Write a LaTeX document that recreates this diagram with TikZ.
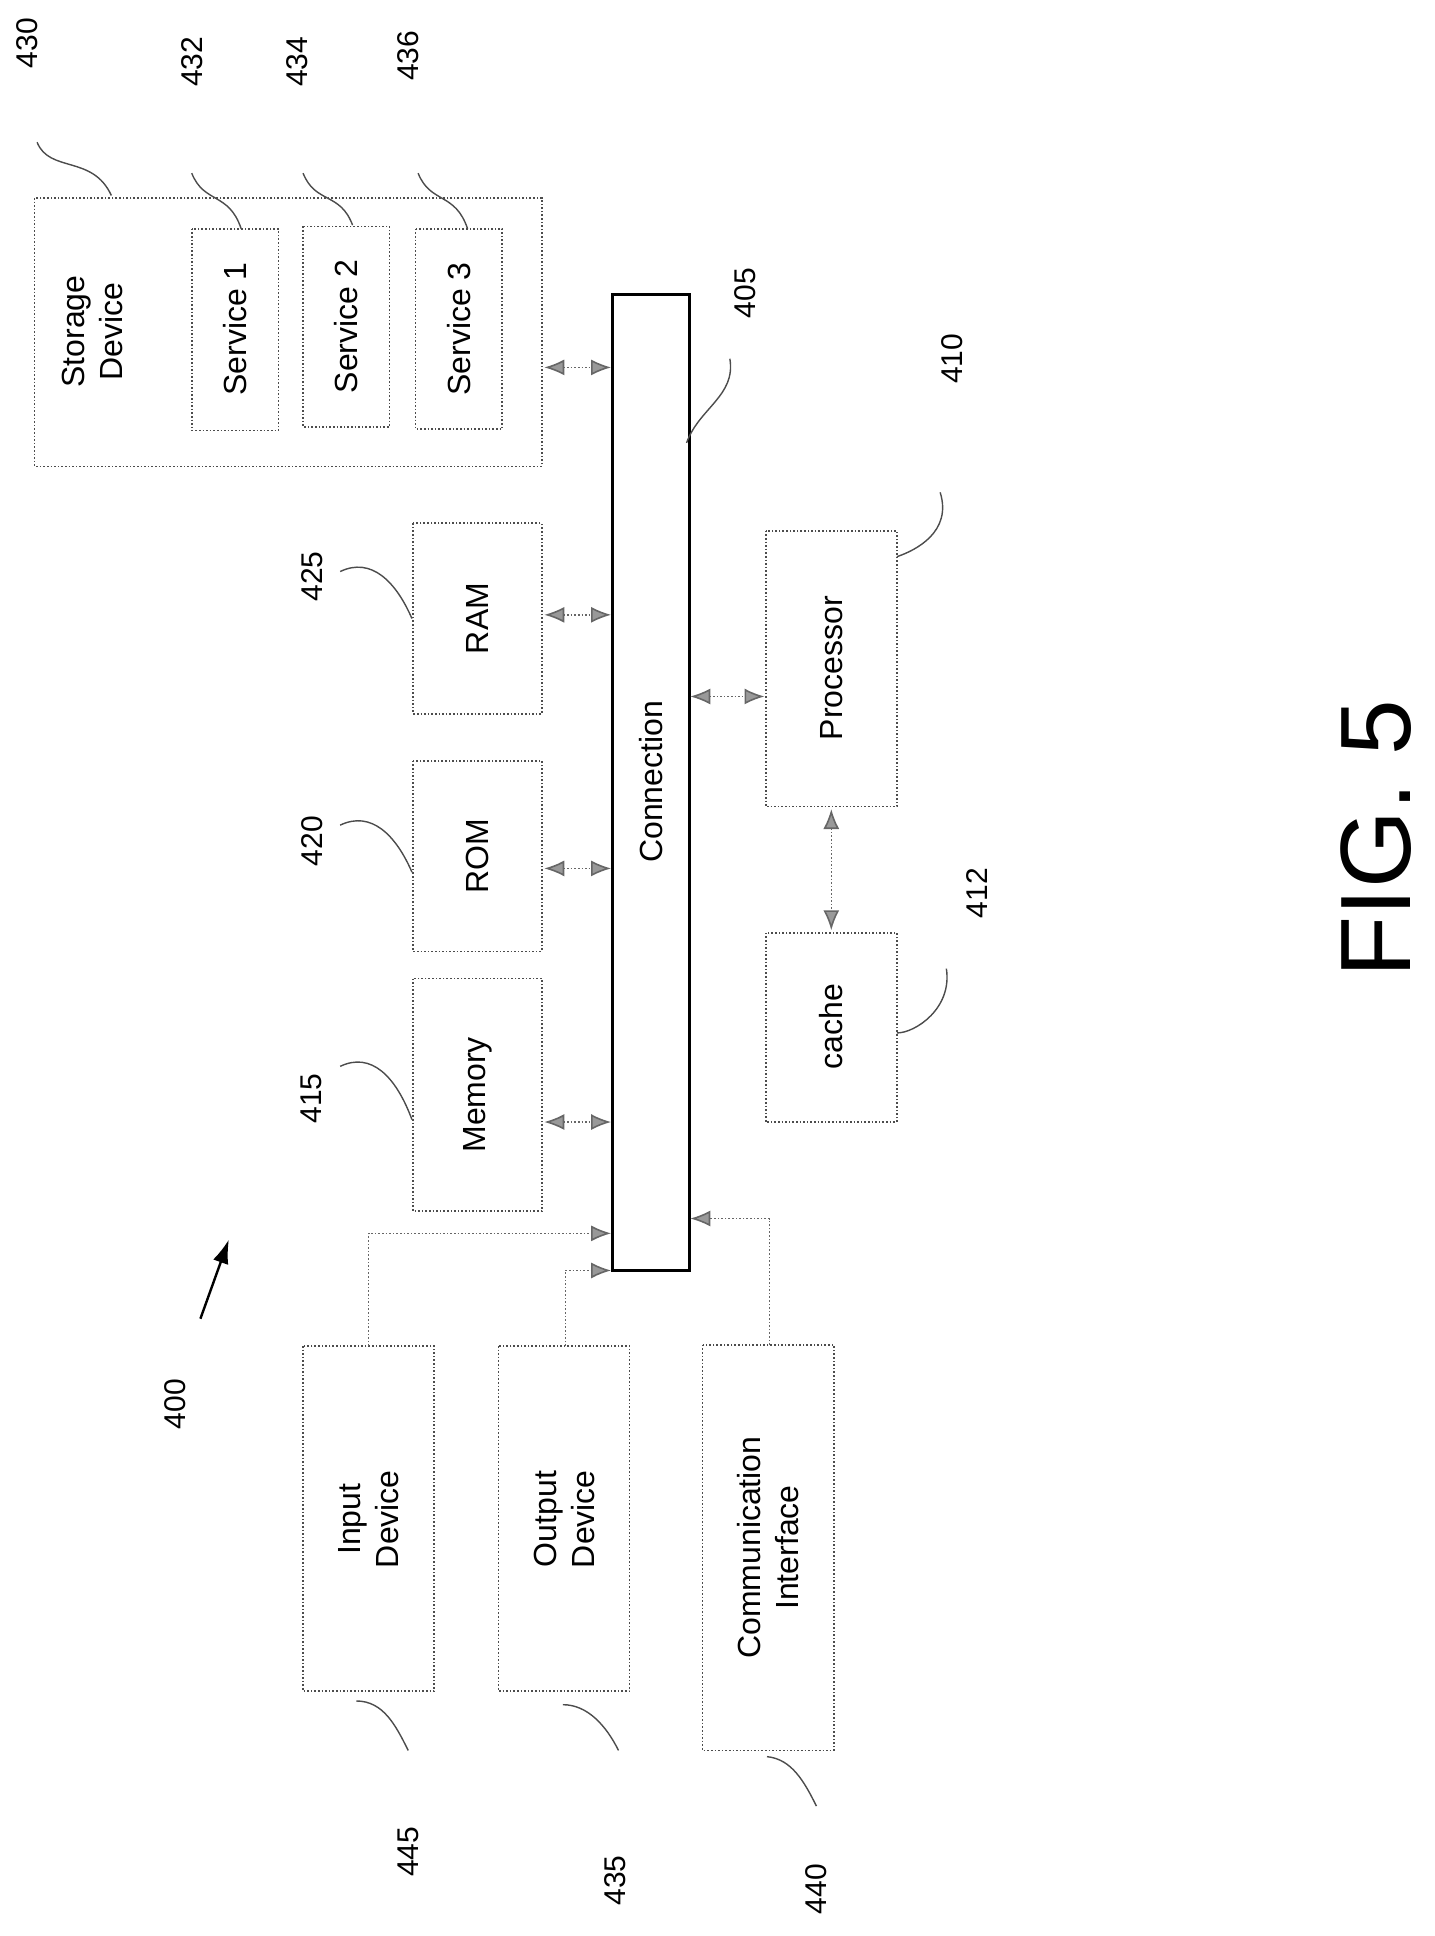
\documentclass[tikz,border=0pt]{standalone}
\usepackage{fontspec}
\setmainfont{Liberation Sans}
\usetikzlibrary{arrows.meta}
\begin{document}
\begin{tikzpicture}[x=0.6185pt,y=-0.6185pt,
  box/.style={draw=black!70,densely dotted,line width=0.8pt},
  lbl/.style={rotate=90,font=\fontsize{16}{19}\selectfont},
  num/.style={rotate=90,font=\fontsize{15}{18}\selectfont},
  conn/.style={densely dotted,line width=0.8pt,draw=black!60,{Latex[length=10pt,width=8pt,fill=black!40]}-{Latex[length=10pt,width=8pt,fill=black!40]}},
  conn1/.style={densely dotted,line width=0.8pt,draw=black!60,-{Latex[length=10pt,width=8pt,fill=black!40]}},
  sq/.style={draw=black!70,line width=0.7pt}]
\useasboundingbox (0,0) rectangle (1160,1565);
\draw[box] (28,160) rectangle (438,377);
\node[lbl,align=center] (sd) at (75,268) {Storage\\Device};
\draw[box] (155,185) rectangle (225,348); \node[lbl] (s1) at (190,266) {Service 1};
\draw[box] (245,183) rectangle (315,345); \node[lbl] (s2) at (280,264) {Service 2};
\draw[box] (336,185) rectangle (406,347); \node[lbl] (s3) at (371,266) {Service 3};
\draw[line width=1.5pt] (495,238) rectangle (557,1027);
\node[lbl] (c) at (526,632) {Connection};
\draw[box] (334,423) rectangle (438,577); \node[lbl] (ram) at (386,500) {RAM};
\draw[box] (334,615) rectangle (438,769); \node[lbl] (rom) at (386,692) {ROM};
\draw[box] (334,791) rectangle (438,979); \node[lbl] (mem) at (386,885) {Memory};
\draw[box] (619,429) rectangle (725,652); \node[lbl] (proc) at (672,540) {Processor};
\draw[box] (619,754) rectangle (725,907); \node[lbl] (cache) at (672,830) {cache};
\draw[box] (245,1088) rectangle (351,1367); \node[lbl,align=center] (in) at (298,1228) {Input\\Device};
\draw[box] (403,1088) rectangle (509,1367); \node[lbl,align=center] (out) at (456,1228) {Output\\Device};
\draw[box] (568,1087) rectangle (674,1415); \node[lbl,align=center] (ci) at (621,1251) {Communication\\Interface};
\coordinate (a1) at (440,297); \coordinate (b1) at (494,297);
\coordinate (a2) at (440,497); \coordinate (b2) at (494,497);
\coordinate (a3) at (440,702); \coordinate (b3) at (494,702);
\coordinate (a4) at (440,907); \coordinate (b4) at (494,907);
\coordinate (a5) at (558,563); \coordinate (b5) at (618,563);
\coordinate (a6) at (672,654); \coordinate (b6) at (672,752);
\draw[conn] (a1) -- (b1); \draw[conn] (a2) -- (b2); \draw[conn] (a3) -- (b3);
\draw[conn] (a4) -- (b4); \draw[conn] (a5) -- (b5); \draw[conn] (a6) -- (b6);
\coordinate (i0) at (298,1088); \coordinate (i1) at (494,997);
\coordinate (o0) at (457,1088); \coordinate (o1) at (494,1027);
\coordinate (k0) at (622,1087); \coordinate (k1) at (558,985);
\draw[conn1] (i0) |- (i1); \draw[conn1] (o0) |- (o1); \draw[conn1] (k0) |- (k1);
% labels
\node[num] (n430) at (22,35) {430};
\node[num] (n432) at (155,50) {432};
\node[num] (n434) at (240,50) {434};
\node[num] (n436) at (330,45) {436};
\node[num] (n405) at (602,237) {405};
\node[num] (n410) at (770,290) {410};
\node[num] (n425) at (252,466) {425};
\node[num] (n420) at (252,680) {420};
\node[num] (n415) at (252,888) {415};
\node[num] (n412) at (790,722) {412};
\node[num] (n400) at (142,1135) {400};
\node[num] (n445) at (330,1497) {445};
\node[num] (n435) at (497,1520) {435};
\node[num] (n440) at (660,1527) {440};
\node[rotate=90,font=\fontsize{50}{52}\selectfont] (fig) at (1112,678) {FIG. 5};
\draw[-{Latex[length=12pt,width=8pt]},line width=1.2pt] (162,1066) -- (185,1002);
% squiggles
\draw[sq] (30,115) .. controls (40,140) and (75,125) .. (90,158);
\draw[sq] (155,140) .. controls (165,165) and (185,155) .. (195,185);
\draw[sq] (245,140) .. controls (255,165) and (275,155) .. (285,182);
\draw[sq] (338,140) .. controls (348,165) and (368,155) .. (378,185);
\draw[sq] (275,462) .. controls (300,450) and (320,470) .. (333,500);
\draw[sq] (275,667) .. controls (300,655) and (320,675) .. (333,705);
\draw[sq] (275,862) .. controls (300,850) and (320,870) .. (333,905);
\draw[sq] (590,290) .. controls (595,320) and (565,330) .. (555,358);
\draw[sq] (760,398) .. controls (770,430) and (740,445) .. (725,450);
\draw[sq] (765,783) .. controls (770,815) and (740,835) .. (725,835);
\draw[sq] (288,1375) .. controls (310,1375) and (320,1395) .. (330,1415);
\draw[sq] (455,1378) .. controls (475,1378) and (490,1395) .. (500,1415);
\draw[sq] (620,1420) .. controls (640,1422) and (650,1440) .. (660,1460);
\end{tikzpicture}
\end{document}
